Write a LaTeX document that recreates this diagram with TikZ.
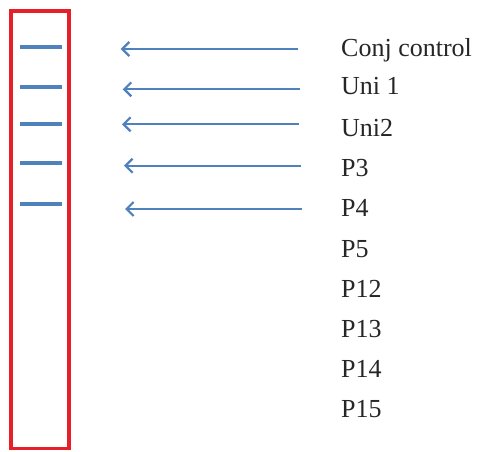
\documentclass[tikz,border=0pt]{standalone}
\usepackage{fontspec}
\setmainfont{Liberation Serif}
\usetikzlibrary{arrows.meta,positioning}
\definecolor{laneblue}{RGB}{79,129,189}
\definecolor{gelred}{RGB}{232,30,40}
\tikzset{
  % one band in the lane
  band/.style={laneblue, line width=4pt},
  % arrow from a label towards its band
  pointer/.style={laneblue, line width=2.2pt, -{Straight Barb[length=7pt,width=14pt]}},
  lanelabel/.style={anchor=base west, inner sep=0pt, font=\fontsize{26}{30}\selectfont, text=black!85},
}

\begin{document}
\begin{tikzpicture}[x=1pt,y=-1pt]
    \useasboundingbox (0,0) rectangle (477,452);

    \draw[gelred, line width=3.5pt] (11,11) rectangle (69,448.5);

    \foreach \i/\yband/\yarr/\xtip/\xtail in {1/47.3/49/120.7/298, 2/87.3/89.3/122.7/300, 3/124/124.3/122/299, 4/162.7/165.7/124/301, 5/203.7/209/125/302}
    {
    \draw[band] (20,\yband) -- (62.3,\yband);
    \coordinate (tail\i) at (\xtail,\yarr);
    \coordinate (tip\i) at (\xtip,\yarr);
    \draw[pointer] (tail\i) -- (tip\i);
    }

    \foreach \name/\yb/\txt in {conj/57/Conj control, uni1/95/Uni 1, uni2/136/Uni2, p3/176/P3, p4/216/P4, p5/257/P5, p12/297/P12, p13/337/P13, p14/377/P14, p15/417/P15}
    \node[lanelabel] (\name) at (341,\yb) {\txt};
\end{tikzpicture}
\end{document}
